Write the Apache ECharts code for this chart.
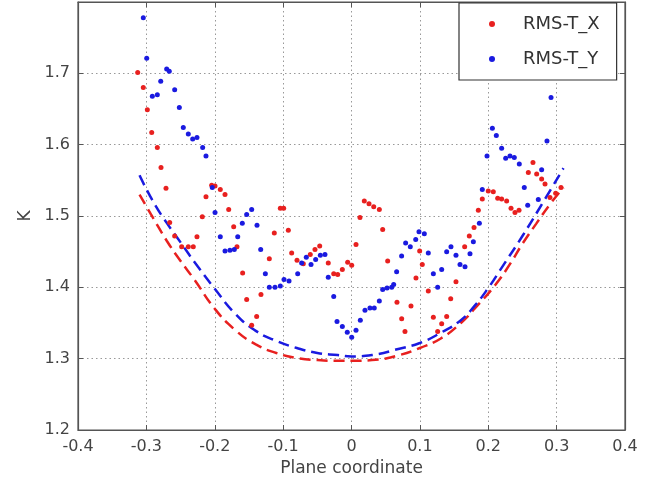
<!DOCTYPE html>
<html>
<head>
<meta charset="utf-8">
<script src="https://cdn.jsdelivr.net/npm/echarts@6/dist/echarts.min.js"></script>
<style>html,body{margin:0;padding:0;background:#fff}#c{width:657px;height:484px}</style>
</head>
<body>
<div id="c"></div>
<script>
// ---- data ----
var xRed = [-0.3127,-0.3045,-0.2986,-0.2922,-0.284,-0.2786,-0.2713,-0.2659,-0.2586,-0.2484,-0.2387,-0.2314,-0.226,-0.2182,-0.2128,-0.2045,-0.1996,-0.1919,-0.185,-0.1796,-0.1723,-0.1675,-0.1592,-0.1533,-0.146,-0.1387,-0.1324,-0.1202,-0.1129,-0.1041,-0.0992,-0.0924,-0.0875,-0.0797,-0.0705,-0.0603,-0.0534,-0.0465,-0.034,-0.026,-0.0202,-0.0134,-0.0056,0.0003,0.0066,0.0124,0.0187,0.0256,0.0325,0.0407,0.0456,0.0529,0.0665,0.0734,0.0782,0.087,0.0943,0.0997,0.1035,0.1123,0.1197,0.126,0.1319,0.1392,0.1451,0.1528,0.1655,0.1723,0.1792,0.1855,0.1913,0.2,0.2074,0.2138,0.2196,0.2269,0.2333,0.2391,0.245,0.2586,0.2654,0.2708,0.2781,0.283,0.2903,0.2986,0.3064];
var kRed = [1.701,1.680,1.649,1.617,1.596,1.568,1.539,1.491,1.472,1.457,1.457,1.457,1.471,1.499,1.527,1.543,1.542,1.537,1.530,1.509,1.485,1.457,1.420,1.383,1.347,1.359,1.390,1.440,1.476,1.511,1.511,1.480,1.448,1.438,1.433,1.446,1.453,1.458,1.434,1.419,1.418,1.425,1.435,1.431,1.460,1.498,1.521,1.517,1.513,1.509,1.481,1.437,1.379,1.356,1.338,1.374,1.413,1.451,1.432,1.395,1.358,1.338,1.349,1.359,1.384,1.408,1.457,1.472,1.484,1.508,1.524,1.535,1.534,1.525,1.524,1.521,1.511,1.505,1.508,1.561,1.575,1.559,1.552,1.545,1.526,1.532,1.540];
var xBlue = [-0.3045,-0.2995,-0.2913,-0.284,-0.279,-0.2703,-0.2665,-0.2586,-0.2518,-0.246,-0.2387,-0.2323,-0.226,-0.2177,-0.2128,-0.2036,-0.1996,-0.1919,-0.185,-0.1778,-0.1714,-0.1664,-0.1597,-0.1533,-0.146,-0.1382,-0.1328,-0.126,-0.1202,-0.1119,-0.1041,-0.0987,-0.0914,-0.0787,-0.0729,-0.0661,-0.0592,-0.0524,-0.0456,-0.0388,-0.034,-0.026,-0.0212,-0.0134,-0.0062,0.0003,0.0066,0.0129,0.0197,0.027,0.0333,0.0407,0.0456,0.052,0.0588,0.0617,0.066,0.0733,0.0792,0.086,0.0939,0.0987,0.1065,0.1123,0.1197,0.126,0.1319,0.1392,0.1455,0.1528,0.1587,0.166,0.1733,0.1782,0.187,0.1913,0.1982,0.206,0.2118,0.2196,0.2255,0.2318,0.2381,0.2454,0.2527,0.2577,0.2732,0.2781,0.2859,0.2918];
var kBlue = [1.778,1.721,1.668,1.670,1.689,1.706,1.703,1.677,1.652,1.624,1.615,1.608,1.610,1.596,1.584,1.540,1.505,1.471,1.451,1.452,1.453,1.471,1.490,1.502,1.509,1.487,1.453,1.419,1.400,1.400,1.402,1.411,1.409,1.419,1.434,1.442,1.432,1.439,1.445,1.446,1.414,1.387,1.352,1.345,1.337,1.330,1.340,1.354,1.368,1.371,1.371,1.381,1.397,1.399,1.400,1.404,1.422,1.444,1.462,1.457,1.467,1.478,1.475,1.448,1.419,1.400,1.425,1.450,1.457,1.445,1.432,1.429,1.447,1.464,1.490,1.537,1.584,1.623,1.613,1.595,1.581,1.584,1.582,1.573,1.540,1.515,1.523,1.565,1.605,1.666];
var xFitRed = [-0.31,-0.29,-0.27,-0.25,-0.23,-0.2,-0.17,-0.14,-0.11,-0.08,-0.05,-0.02,0,0.03,0.07,0.1,0.13,0.16,0.18,0.21,0.23,0.25,0.27,0.29,0.31];
var kFitRed = [1.530,1.497,1.465,1.437,1.411,1.370,1.340,1.320,1.308,1.301,1.298,1.297,1.297,1.298,1.305,1.315,1.328,1.350,1.370,1.403,1.430,1.461,1.489,1.516,1.540];
var xFitBlue = [-0.31,-0.29,-0.27,-0.25,-0.23,-0.2,-0.17,-0.14,-0.11,-0.08,-0.05,-0.02,0,0.03,0.07,0.1,0.13,0.16,0.18,0.2,0.22,0.25,0.28,0.31];
var kFitBlue = [1.557,1.520,1.490,1.463,1.436,1.398,1.363,1.339,1.325,1.315,1.308,1.305,1.303,1.305,1.314,1.322,1.336,1.354,1.374,1.399,1.428,1.472,1.519,1.567];
var xTicks = {min: -0.4, max: 0.4, interval: 0.1};
var yTicks = {min: 1.2, max: 1.8, interval: 0.1};
var seriesNames = ['RMS-T_X', 'RMS-T_Y'];

function pairs(xs, ys) { return xs.map(function (x, i) { return [x, ys[i]]; }); }

var RED = '#e8201f', BLUE = '#1a1ae0';
var FONT = 'DejaVu Sans';
var chart = echarts.init(document.getElementById('c'), null, {renderer: 'canvas'});
var axisCol = '#555';
var option = {
  animation: false,
  backgroundColor: '#fff',
  textStyle: {fontFamily: FONT},
  grid: {left: 78, right: 32, top: 2, bottom: 54, show: true, borderColor: axisCol, borderWidth: 1.2},
  legend: {
    data: seriesNames,
    orient: 'vertical', left: 459, top: 3,
    padding: [12, 17, 12, 30],
    itemGap: 17, itemWidth: 6, itemHeight: 6, icon: 'circle',
    borderColor: '#333', borderWidth: 1.2, backgroundColor: '#fff',
    textStyle: {fontFamily: FONT, fontSize: 18, color: '#333', padding: [0, 0, 0, 23]}
  },
  xAxis: [{
    type: 'value', min: xTicks.min, max: xTicks.max, interval: xTicks.interval,
    name: 'Plane coordinate', nameLocation: 'middle', nameGap: 28,
    nameTextStyle: {fontFamily: FONT, fontSize: 17, color: '#444'},
    axisLine: {show: true, onZero: false, lineStyle: {color: axisCol, width: 1.2}},
    axisTick: {show: true, inside: true, length: 5, lineStyle: {color: axisCol}},
    axisLabel: {fontFamily: FONT, fontSize: 16, color: '#444', margin: 9,
      formatter: function (v) { return String(Math.round(v * 10) / 10); }},
    splitLine: {show: true, lineStyle: {color: '#999', type: [1.5, 3], width: 1}}
  }, {
    type: 'value', position: 'top', min: xTicks.min, max: xTicks.max, interval: xTicks.interval,
    axisLine: {show: true, onZero: false, lineStyle: {color: axisCol, width: 1.2}},
    axisTick: {show: true, inside: true, length: 5, lineStyle: {color: axisCol}},
    axisLabel: {show: false}, splitLine: {show: false}
  }],
  yAxis: [{
    type: 'value', min: yTicks.min, max: yTicks.max, interval: yTicks.interval,
    name: 'K', nameLocation: 'middle', nameGap: 44, nameRotate: 90,
    nameTextStyle: {fontFamily: FONT, fontSize: 17, color: '#444'},
    axisLine: {show: true, onZero: false, lineStyle: {color: axisCol, width: 1.2}},
    axisTick: {show: true, inside: true, length: 5, lineStyle: {color: axisCol}},
    axisLabel: {fontFamily: FONT, fontSize: 16, color: '#444', margin: 8, showMaxLabel: false,
      formatter: function (v) { return (Math.round(v * 10) / 10).toFixed(1); }},
    splitLine: {show: true, lineStyle: {color: '#999', type: [1.5, 3], width: 1}}
  }, {
    type: 'value', position: 'right', min: yTicks.min, max: yTicks.max, interval: yTicks.interval,
    axisLine: {show: true, onZero: false, lineStyle: {color: axisCol, width: 1.2}},
    axisTick: {show: true, inside: true, length: 5, lineStyle: {color: axisCol}},
    axisLabel: {show: false}, splitLine: {show: false}
  }],
  series: [
    {name: seriesNames[0], type: 'scatter', symbol: 'circle', symbolSize: 5,
     itemStyle: {color: RED, opacity: 1}, data: pairs(xRed, kRed), z: 3},
    {name: seriesNames[1], type: 'scatter', symbol: 'circle', symbolSize: 5,
     itemStyle: {color: BLUE, opacity: 1}, data: pairs(xBlue, kBlue), z: 3},
    {name: 'fitX', type: 'line', smooth: true, showSymbol: false, symbol: 'none',
     lineStyle: {color: RED, width: 2.5, type: [11, 6]}, data: pairs(xFitRed, kFitRed), z: 2},
    {name: 'fitY', type: 'line', smooth: true, showSymbol: false, symbol: 'none',
     lineStyle: {color: BLUE, width: 2.5, type: [11, 6]}, data: pairs(xFitBlue, kFitBlue), z: 2}
  ]
};
chart.setOption(option);
</script>
</body>
</html>
